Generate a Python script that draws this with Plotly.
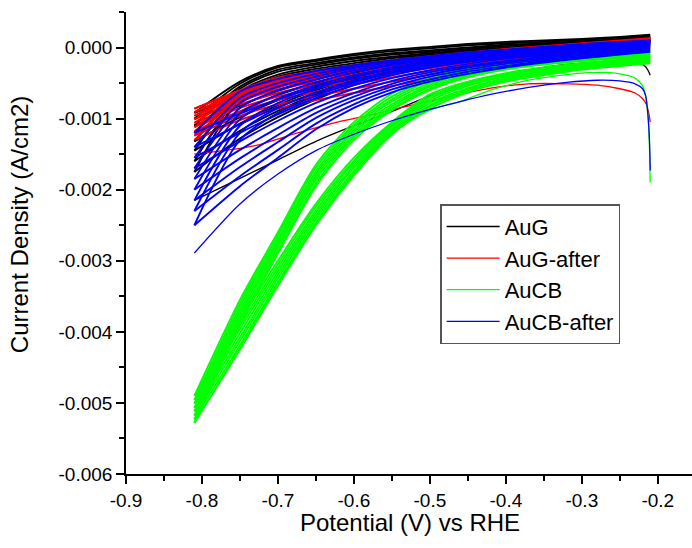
import plotly.graph_objects as go

# Potential grid (V vs RHE) used for the repeated cycles
V_GRID = [-0.21, -0.25, -0.30, -0.35, -0.40, -0.45, -0.50, -0.55, -0.60, -0.65, -0.70, -0.75, -0.81]

# ---------------- AuG (black), current density in mA/cm2 ----------------
AUG_FIRST_V = [-0.21, -0.213, -0.216, -0.22, -0.25, -0.30, -0.35, -0.40, -0.45, -0.50, -0.55, -0.60, -0.65, -0.70, -0.75, -0.81]
AUG_FIRST_I = [-0.39, -0.32, -0.27, -0.24, -0.21, -0.22, -0.28, -0.38, -0.50, -0.68, -0.90, -1.10, -1.32, -1.58, -1.84, -2.15]
AUG_CATH = [
    [0.08, 0.04, 0.00, -0.05, -0.10, -0.17, -0.26, -0.38, -0.53, -0.73, -0.98, -1.28, -1.75],
    [0.09, 0.05, 0.01, -0.04, -0.09, -0.15, -0.23, -0.34, -0.48, -0.66, -0.89, -1.17, -1.60],
    [0.10, 0.06, 0.02, -0.03, -0.08, -0.13, -0.21, -0.31, -0.44, -0.60, -0.81, -1.07, -1.45],
    [0.11, 0.07, 0.03, -0.02, -0.07, -0.12, -0.19, -0.28, -0.40, -0.55, -0.74, -0.98, -1.32],
    [0.12, 0.08, 0.04, 0.00, -0.05, -0.10, -0.17, -0.25, -0.36, -0.50, -0.67, -0.90, -1.20],
    [0.13, 0.09, 0.05, 0.01, -0.04, -0.09, -0.15, -0.22, -0.32, -0.45, -0.61, -0.82, -1.10],
    [0.14, 0.10, 0.06, 0.02, -0.02, -0.07, -0.13, -0.20, -0.29, -0.41, -0.56, -0.75, -1.00],
    [0.15, 0.11, 0.07, 0.03, -0.01, -0.06, -0.11, -0.18, -0.26, -0.37, -0.51, -0.69, -0.92],
]
AUG_ANOD = [
    [0.08, 0.05, 0.02, -0.02, -0.05, -0.09, -0.14, -0.20, -0.27, -0.36, -0.48, -0.72, -1.75],
    [0.09, 0.06, 0.03, -0.01, -0.04, -0.08, -0.12, -0.18, -0.25, -0.33, -0.45, -0.69, -1.60],
    [0.11, 0.08, 0.05, 0.01, -0.02, -0.06, -0.10, -0.15, -0.22, -0.30, -0.41, -0.65, -1.45],
    [0.12, 0.09, 0.06, 0.03, 0.00, -0.04, -0.08, -0.13, -0.19, -0.27, -0.38, -0.62, -1.32],
    [0.14, 0.11, 0.08, 0.05, 0.02, -0.02, -0.06, -0.10, -0.16, -0.24, -0.34, -0.58, -1.20],
    [0.15, 0.12, 0.09, 0.06, 0.04, 0.00, -0.04, -0.08, -0.14, -0.22, -0.31, -0.55, -1.10],
    [0.17, 0.14, 0.11, 0.08, 0.06, 0.03, -0.01, -0.05, -0.11, -0.19, -0.28, -0.51, -1.00],
    [0.18, 0.15, 0.12, 0.10, 0.08, 0.05, 0.01, -0.03, -0.09, -0.17, -0.26, -0.48, -0.92],
]

# ---------------- AuG-after (red) ----------------
AUGA_FIRST_V = [-0.21, -0.212, -0.215, -0.22, -0.23, -0.25, -0.28, -0.32, -0.37, -0.42, -0.47, -0.52, -0.57, -0.63, -0.68, -0.73, -0.81]
AUGA_FIRST_I = [-1.05, -0.92, -0.80, -0.72, -0.64, -0.58, -0.53, -0.51, -0.51, -0.57, -0.68, -0.80, -0.93, -1.07, -1.22, -1.38, -1.50]
AUGA_CATH = [
    [0.00, -0.04, -0.10, -0.17, -0.25, -0.34, -0.44, -0.54, -0.64, -0.74, -0.86, -1.02, -1.30],
    [0.02, -0.02, -0.08, -0.14, -0.21, -0.29, -0.38, -0.48, -0.58, -0.68, -0.80, -0.96, -1.24],
    [0.03, -0.01, -0.06, -0.12, -0.18, -0.25, -0.33, -0.42, -0.52, -0.62, -0.74, -0.90, -1.18],
    [0.05, 0.01, -0.04, -0.09, -0.15, -0.21, -0.29, -0.37, -0.46, -0.57, -0.69, -0.85, -1.12],
    [0.06, 0.02, -0.02, -0.07, -0.12, -0.18, -0.25, -0.33, -0.42, -0.52, -0.64, -0.80, -1.06],
    [0.07, 0.04, 0.00, -0.05, -0.10, -0.15, -0.22, -0.29, -0.38, -0.48, -0.59, -0.75, -1.01],
    [0.08, 0.05, 0.01, -0.03, -0.08, -0.13, -0.19, -0.26, -0.34, -0.44, -0.55, -0.70, -0.96],
    [0.09, 0.06, 0.02, -0.02, -0.06, -0.11, -0.17, -0.23, -0.31, -0.40, -0.51, -0.66, -0.91],
    [0.10, 0.07, 0.03, -0.01, -0.05, -0.09, -0.15, -0.21, -0.28, -0.37, -0.47, -0.62, -0.86],
]
AUGA_ANOD = [
    [0.08, 0.05, 0.01, -0.03, -0.07, -0.12, -0.18, -0.25, -0.33, -0.44, -0.56, -0.78, -1.30],
    [0.09, 0.06, 0.02, -0.02, -0.06, -0.11, -0.17, -0.24, -0.32, -0.43, -0.54, -0.75, -1.24],
    [0.09, 0.06, 0.02, -0.02, -0.06, -0.10, -0.16, -0.23, -0.31, -0.41, -0.52, -0.73, -1.18],
    [0.10, 0.07, 0.03, -0.01, -0.05, -0.10, -0.15, -0.22, -0.30, -0.40, -0.50, -0.70, -1.12],
    [0.11, 0.08, 0.04, -0.01, -0.05, -0.09, -0.14, -0.21, -0.29, -0.38, -0.48, -0.68, -1.06],
    [0.11, 0.08, 0.04, 0.00, -0.04, -0.09, -0.14, -0.20, -0.28, -0.37, -0.47, -0.66, -1.01],
    [0.12, 0.09, 0.05, 0.01, -0.03, -0.08, -0.13, -0.19, -0.27, -0.36, -0.45, -0.64, -0.96],
    [0.12, 0.09, 0.05, 0.01, -0.03, -0.08, -0.13, -0.19, -0.26, -0.34, -0.44, -0.62, -0.91],
    [0.13, 0.10, 0.06, 0.02, -0.02, -0.07, -0.12, -0.18, -0.25, -0.33, -0.42, -0.60, -0.86],
]

# ---------------- AuCB (green) ----------------
AUCB_FIRST_V = [-0.21, -0.211, -0.213, -0.216, -0.22, -0.23, -0.25, -0.28, -0.32, -0.37, -0.42, -0.46, -0.50, -0.55, -0.60, -0.65, -0.70, -0.75, -0.81]
AUCB_FIRST_I = [-1.90, -1.40, -0.95, -0.68, -0.54, -0.43, -0.37, -0.35, -0.38, -0.46, -0.60, -0.76, -0.88, -1.20, -1.78, -2.47, -3.33, -4.22, -5.28]
AUCB_CATH = [
    [-0.13, -0.17, -0.22, -0.28, -0.36, -0.48, -0.66, -1.05, -1.55, -2.20, -3.00, -3.85, -4.90],
    [-0.14, -0.18, -0.23, -0.30, -0.38, -0.50, -0.69, -1.07, -1.59, -2.24, -3.05, -3.91, -4.96],
    [-0.15, -0.19, -0.24, -0.31, -0.39, -0.52, -0.72, -1.10, -1.62, -2.29, -3.10, -3.96, -5.01],
    [-0.17, -0.21, -0.26, -0.33, -0.41, -0.54, -0.75, -1.12, -1.66, -2.33, -3.15, -4.02, -5.07],
    [-0.18, -0.22, -0.27, -0.34, -0.43, -0.57, -0.78, -1.15, -1.69, -2.37, -3.20, -4.08, -5.12],
    [-0.19, -0.23, -0.28, -0.36, -0.45, -0.59, -0.81, -1.17, -1.73, -2.41, -3.25, -4.13, -5.18],
    [-0.21, -0.25, -0.30, -0.37, -0.46, -0.61, -0.83, -1.20, -1.76, -2.46, -3.30, -4.19, -5.23],
    [-0.22, -0.26, -0.31, -0.39, -0.48, -0.63, -0.86, -1.22, -1.80, -2.50, -3.35, -4.25, -5.28],
]
AUCB_ANOD = [
    [-0.05, -0.07, -0.10, -0.14, -0.20, -0.27, -0.42, -0.65, -1.05, -1.65, -2.60, -3.55, -4.90],
    [-0.06, -0.08, -0.11, -0.15, -0.21, -0.29, -0.45, -0.69, -1.09, -1.69, -2.64, -3.60, -4.96],
    [-0.07, -0.09, -0.12, -0.17, -0.23, -0.31, -0.47, -0.73, -1.12, -1.74, -2.69, -3.65, -5.01],
    [-0.08, -0.10, -0.14, -0.18, -0.24, -0.33, -0.50, -0.76, -1.16, -1.78, -2.73, -3.70, -5.07],
    [-0.09, -0.11, -0.15, -0.20, -0.26, -0.35, -0.53, -0.80, -1.19, -1.82, -2.77, -3.75, -5.12],
    [-0.10, -0.13, -0.16, -0.21, -0.28, -0.38, -0.55, -0.83, -1.23, -1.86, -2.81, -3.80, -5.18],
    [-0.11, -0.14, -0.18, -0.23, -0.29, -0.40, -0.58, -0.86, -1.26, -1.91, -2.86, -3.85, -5.23],
    [-0.12, -0.15, -0.19, -0.24, -0.31, -0.42, -0.60, -0.88, -1.30, -1.95, -2.90, -3.90, -5.28],
]

# ---------------- AuCB-after (blue) ----------------
AUCBA_FIRST_V = [-0.21, -0.211, -0.213, -0.216, -0.22, -0.23, -0.25, -0.28, -0.32, -0.37, -0.42, -0.46, -0.50, -0.55, -0.60, -0.65, -0.70, -0.75, -0.81]
AUCBA_FIRST_I = [-1.73, -1.30, -0.95, -0.68, -0.58, -0.51, -0.47, -0.46, -0.49, -0.56, -0.66, -0.76, -0.87, -1.03, -1.22, -1.45, -1.78, -2.20, -2.89]
AUCBA_CATH = [
    [-0.06, -0.10, -0.15, -0.21, -0.28, -0.37, -0.48, -0.63, -0.85, -1.15, -1.55, -1.95, -2.50],
    [-0.04, -0.08, -0.13, -0.19, -0.26, -0.34, -0.45, -0.59, -0.80, -1.07, -1.44, -1.81, -2.30],
    [-0.03, -0.07, -0.11, -0.17, -0.23, -0.31, -0.41, -0.55, -0.74, -0.99, -1.33, -1.68, -2.15],
    [-0.01, -0.05, -0.09, -0.15, -0.21, -0.28, -0.38, -0.51, -0.69, -0.92, -1.23, -1.56, -2.00],
    [0.00, -0.04, -0.08, -0.13, -0.19, -0.26, -0.35, -0.47, -0.64, -0.85, -1.13, -1.44, -1.85],
    [0.02, -0.02, -0.06, -0.11, -0.16, -0.23, -0.32, -0.43, -0.58, -0.78, -1.03, -1.32, -1.70],
    [0.03, -0.01, -0.04, -0.09, -0.14, -0.20, -0.28, -0.39, -0.53, -0.71, -0.94, -1.20, -1.55],
    [0.05, 0.01, -0.02, -0.07, -0.11, -0.17, -0.25, -0.35, -0.48, -0.64, -0.84, -1.08, -1.40],
    [0.06, 0.03, 0.00, -0.04, -0.09, -0.14, -0.21, -0.30, -0.42, -0.56, -0.73, -0.93, -1.20],
]
AUCBA_ANOD = [
    [0.04, 0.01, -0.03, -0.07, -0.12, -0.18, -0.26, -0.36, -0.50, -0.68, -0.92, -1.30, -2.50],
    [0.05, 0.02, -0.02, -0.06, -0.10, -0.16, -0.23, -0.33, -0.46, -0.63, -0.85, -1.20, -2.30],
    [0.06, 0.03, -0.01, -0.05, -0.09, -0.14, -0.21, -0.30, -0.42, -0.58, -0.78, -1.10, -2.15],
    [0.07, 0.04, 0.00, -0.04, -0.08, -0.13, -0.19, -0.28, -0.39, -0.53, -0.72, -1.01, -2.00],
    [0.08, 0.05, 0.01, -0.03, -0.07, -0.11, -0.17, -0.25, -0.35, -0.49, -0.66, -0.93, -1.85],
    [0.08, 0.06, 0.02, -0.02, -0.06, -0.10, -0.15, -0.23, -0.32, -0.45, -0.60, -0.85, -1.70],
    [0.09, 0.06, 0.03, -0.01, -0.05, -0.09, -0.14, -0.21, -0.29, -0.41, -0.55, -0.78, -1.55],
    [0.09, 0.07, 0.04, 0.00, -0.04, -0.08, -0.13, -0.19, -0.27, -0.37, -0.50, -0.71, -1.40],
    [0.10, 0.08, 0.05, 0.01, -0.03, -0.07, -0.12, -0.18, -0.25, -0.33, -0.44, -0.62, -1.20],
]

SERIES = [
    ("AuG", "#000000", AUG_FIRST_V, AUG_FIRST_I, AUG_CATH, AUG_ANOD),
    ("AuG-after", "#FF0000", AUGA_FIRST_V, AUGA_FIRST_I, AUGA_CATH, AUGA_ANOD),
    ("AuCB", "#00FF00", AUCB_FIRST_V, AUCB_FIRST_I, AUCB_CATH, AUCB_ANOD),
    ("AuCB-after", "#0000FF", AUCBA_FIRST_V, AUCBA_FIRST_I, AUCBA_CATH, AUCBA_ANOD),
]

X_TICKS = [-0.9, -0.8, -0.7, -0.6, -0.5, -0.4, -0.3, -0.2]
X_TICKTEXT = ["-0.9", "-0.8", "-0.7", "-0.6", "-0.5", "-0.4", "-0.3", "-0.2"]
Y_TICKS = [0.0, -0.001, -0.002, -0.003, -0.004, -0.005, -0.006]
Y_TICKTEXT = ["0.000", "-0.001", "-0.002", "-0.003", "-0.004", "-0.005", "-0.006"]
X_TITLE = "Potential (V) vs RHE"
Y_TITLE = "Current Density (A/cm2)"


def to_amps(values):
    return [v * 1e-3 for v in values]  # mA/cm2 -> A/cm2


def build_cycles(cath, anod):
    xs, ys = [], []
    for c, a in zip(cath, anod):
        for vx, iy in ((V_GRID, c), (V_GRID[::-1], a[::-1])):
            xs.extend(vx)
            ys.extend(to_amps(iy))
            xs.append(None)
            ys.append(None)
    return xs, ys


fig = go.Figure()
for name, color, fv, fi, cath, anod in SERIES:
    xs, ys = build_cycles(cath, anod)
    fig.add_trace(go.Scatter(
        x=xs, y=ys, mode="lines", name=name, legendgroup=name,
        showlegend=False,
        line=dict(color=color, width=1.9, shape="spline", smoothing=0.8),
        connectgaps=False,
    ))
    fig.add_trace(go.Scatter(
        x=fv, y=to_amps(fi), mode="lines", name=name, legendgroup=name,
        showlegend=True,
        line=dict(color=color, width=1.3, shape="spline", smoothing=0.8),
    ))

FONT = "Liberation Sans, Arial, sans-serif"
fig.update_layout(
    width=692, height=548,
    margin=dict(l=126, r=0, t=12, b=74),
    paper_bgcolor="white", plot_bgcolor="white",
    font=dict(family=FONT, color="black"),
    showlegend=True,
    legend=dict(
        x=0.555, y=0.584, xanchor="left", yanchor="top",
        bgcolor="white", bordercolor="#555555", borderwidth=1.5,
        font=dict(size=22, family=FONT), itemwidth=53,
        tracegroupgap=0,
    ),
    annotations=[
        dict(text=Y_TITLE, textangle=-90, xref="paper", yref="paper",
             x=-0.187, y=0.539, xanchor="center", yanchor="middle",
             showarrow=False, font=dict(size=24, family=FONT, color="black")),
        dict(text=X_TITLE, xref="paper", yref="paper",
             x=0.502, y=-0.104, xanchor="center", yanchor="middle",
             showarrow=False, font=dict(size=24, family=FONT, color="black")),
    ],
)
fig.update_xaxes(
    range=[-0.9, -0.155], showgrid=False, zeroline=False,
    showline=True, linecolor="black", linewidth=1.6,
    ticks="outside", ticklen=8, tickwidth=1.5, tickcolor="black",
    tickmode="array", tickvals=X_TICKS, ticktext=X_TICKTEXT,
    tickfont=dict(size=19),
    minor=dict(tickmode="linear", tick0=-0.9, dtick=0.05, ticks="outside", ticklen=5, tickwidth=1.5, tickcolor="black"),
)
fig.update_yaxes(
    range=[-0.006, 0.0005], showgrid=False, zeroline=False,
    showline=True, linecolor="black", linewidth=1.6,
    ticks="outside", ticklen=8, tickwidth=1.5, tickcolor="black",
    tickmode="array", tickvals=Y_TICKS, ticktext=Y_TICKTEXT,
    tickfont=dict(size=19),
    minor=dict(tickmode="linear", tick0=0, dtick=0.0005, ticks="outside", ticklen=5, tickwidth=1.5, tickcolor="black"),
)

fig.write_html("out.html")
